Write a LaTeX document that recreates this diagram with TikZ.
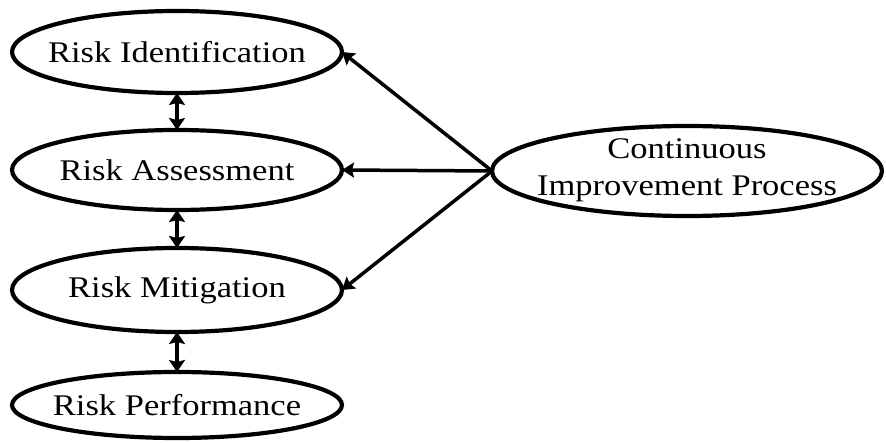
\documentclass[tikz,border=0pt]{standalone}
\usepackage{fontspec}
\setmainfont{Liberation Serif}[FakeStretch=1.15]
\usetikzlibrary{shapes.geometric,arrows.meta}
\begin{document}
\begin{tikzpicture}[x=1pt,y=-1pt,
  stage/.style={ellipse,draw,line width=4.2pt,inner sep=0pt,outer sep=0pt},
  caption/.style={inner sep=0pt,font=\fontsize{30}{37}\selectfont,align=center},
  link/.style={line width=4pt,{Stealth[length=12pt,width=16pt,inset=2pt]}-{Stealth[length=12pt,width=16pt,inset=2pt]}},
  feed/.style={line width=3.5pt,-{Stealth[length=12pt,width=15pt,inset=2pt]}}]
  \useasboundingbox (0,0) rectangle (886,443);
  % risk management stages
  \node[stage,minimum width=330pt,minimum height=82pt] (ri) at (177,52) {};
  \node[stage,minimum width=330pt,minimum height=80pt] (ra) at (177,170) {};
  \node[stage,minimum width=330pt,minimum height=84pt] (rm) at (177,290) {};
  \node[stage,minimum width=330pt,minimum height=66pt] (rp) at (177,405) {};
  \node[caption] (ri-t) at (ri) {Risk Identification};
  \node[caption] (ra-t) at (ra) {Risk Assessment};
  \node[caption] (rm-t) at (rm) {Risk Mitigation};
  \node[caption] (rp-t) at (rp) {Risk Performance};
  % improvement loop
  \node[stage,minimum width=390pt,minimum height=90pt] (ci) at (687,171) {};
  \node[caption] (ci-t) at ([yshift=1pt]ci) {Continuous\\Improvement Process};
  % links between stages
  \draw[link] (ri.south) -- (ra.north);
  \draw[link] (ra.south) -- (rm.north);
  \draw[link] (rm.south) -- (rp.north);
  % feedback from the improvement process
  \draw[feed] (ci.west) -- (ri.east);
  \draw[feed] (ci.west) -- (ra.east);
  \draw[feed] (ci.west) -- (rm.east);
\end{tikzpicture}
\end{document}
